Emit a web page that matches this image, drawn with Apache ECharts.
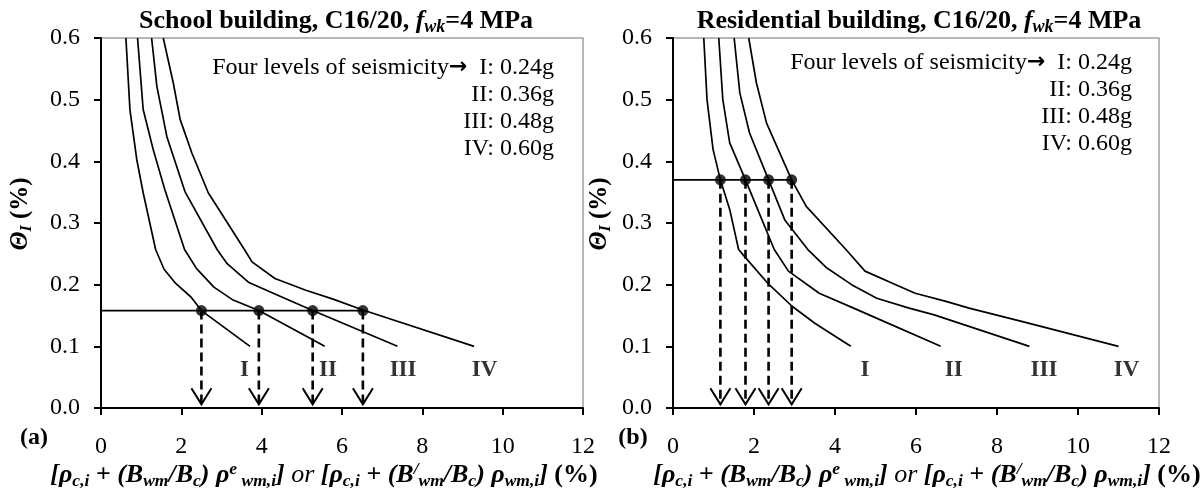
<!DOCTYPE html>
<html>
<head>
<meta charset="utf-8">
<script src="https://cdn.jsdelivr.net/npm/echarts@6/dist/echarts.min.js"></script>
<style>
html, body { margin: 0; padding: 0; background: #fff; }
#chart { width: 1203px; height: 494px; }
</style>
</head>
<body>
<div id="chart"></div>
<script>
// values: [x (%), theta (%)]
var xTicks = [0, 2, 4, 6, 8, 10, 12];
var yTicks = [0, 0.1, 0.2, 0.3, 0.4, 0.5, 0.6];
var levels = ['I', 'II', 'III', 'IV'];
var levelText = ['I: 0.24g', 'II: 0.36g', 'III: 0.48g', 'IV: 0.60g'];

// (a) school building
var schoolI = [[0.62, 0.6], [0.72, 0.484], [0.89, 0.403], [1.05, 0.349], [1.36, 0.257], [1.57, 0.225], [1.86, 0.202], [2.24, 0.18], [2.5, 0.158], [3.71, 0.1]];
var schoolII = [[0.91, 0.6], [1.05, 0.484], [1.3, 0.419], [1.59, 0.354], [2.08, 0.257], [2.38, 0.226], [2.81, 0.196], [3.29, 0.175], [3.93, 0.158], [5.57, 0.1]];
var schoolIII = [[1.26, 0.6], [1.39, 0.522], [1.64, 0.44], [2.09, 0.351], [2.89, 0.257], [3.14, 0.234], [3.67, 0.204], [4.33, 0.185], [5.27, 0.158], [7.38, 0.1]];
var schoolIV = [[1.55, 0.6], [1.8, 0.527], [1.97, 0.468], [2.26, 0.414], [2.67, 0.349], [3.57, 0.257], [3.76, 0.237], [4.33, 0.21], [5.1, 0.191], [5.76, 0.177], [6.52, 0.159], [9.29, 0.1]];
var schoolLevel = 0.158;
var schoolCross = [2.5, 3.93, 5.27, 6.52];
var schoolLabelX = [3.57, 5.65, 7.52, 9.55];

// (b) residential building
var resI = [[0.76, 0.6], [0.84, 0.5], [0.99, 0.419], [1.17, 0.37], [1.4, 0.322], [1.62, 0.257], [1.8, 0.243], [2.33, 0.203], [2.94, 0.165], [3.51, 0.137], [4.39, 0.1]];
var resII = [[1.13, 0.6], [1.23, 0.5], [1.4, 0.43], [1.79, 0.37], [2.06, 0.327], [2.5, 0.257], [2.85, 0.222], [3.61, 0.186], [4.46, 0.162], [4.84, 0.151], [6.61, 0.1]];
var resIII = [[1.51, 0.6], [1.65, 0.511], [1.89, 0.446], [2.36, 0.37], [2.76, 0.305], [3.33, 0.257], [3.8, 0.227], [4.41, 0.2], [5.03, 0.178], [5.83, 0.162], [6.45, 0.151], [8.8, 0.1]];
var resIV = [[1.87, 0.6], [2.06, 0.527], [2.31, 0.462], [2.93, 0.37], [3.29, 0.327], [4.27, 0.257], [4.74, 0.222], [5.5, 0.2], [5.98, 0.186], [6.74, 0.173], [7.31, 0.162], [7.97, 0.151], [8.63, 0.14], [11.0, 0.1]];
var resLevel = 0.37;
var resCross = [1.17, 1.79, 2.36, 2.93];
var resLabelX = [4.74, 6.93, 9.16, 11.2];

var labelY = 0.061;
var arrowTipY = 0.006;

var serif = 'Liberation Serif';

function renderArrow(params, api) {
    var p0 = api.coord([api.value(0), api.value(1)]);
    var p1 = api.coord([api.value(0), api.value(2)]);
    return {
        type: 'group',
        children: [
            {type: 'line', shape: {x1: p0[0], y1: p0[1], x2: p1[0], y2: p1[1]},
                style: {stroke: '#000', lineWidth: 2.6, lineDash: [9, 5]}},
            {type: 'polyline', shape: {points: [[p1[0] - 10, p1[1] - 16], [p1[0], p1[1]], [p1[0] + 10, p1[1] - 16]]},
                style: {stroke: '#000', lineWidth: 2, fill: null}}
        ]
    };
}

function panelSeries(idx, curves, level, cross, labelX) {
    var s = [];
    curves.forEach(function (c, i) {
        s.push({type: 'line', name: levels[i], xAxisIndex: idx, yAxisIndex: idx, data: c,
            symbol: 'none', lineStyle: {color: '#000', width: 1.7}, z: 2});
    });
    // horizontal level line up to the last intersection
    s.push({type: 'line', xAxisIndex: idx, yAxisIndex: idx,
        data: [[0, level], [Math.max.apply(null, cross), level]],
        symbol: 'none', lineStyle: {color: '#000', width: 1.7}, z: 2});
    // dashed arrows down to the x axis
    s.push({type: 'custom', xAxisIndex: idx, yAxisIndex: idx, renderItem: renderArrow,
        data: cross.map(function (x) { return [x, level, arrowTipY]; }),
        encode: {x: 0, y: [1, 2]}, z: 3});
    s.push({type: 'scatter', xAxisIndex: idx, yAxisIndex: idx, symbolSize: 11,
        itemStyle: {color: '#000'}, z: 4,
        data: cross.map(function (x) { return [x, level]; })});
    // curve names
    s.push({type: 'scatter', xAxisIndex: idx, yAxisIndex: idx, symbolSize: 1,
        itemStyle: {color: 'rgba(0,0,0,0)'},
        label: {show: true, position: 'inside', formatter: '{b}', color: '#000',
            fontFamily: serif, fontWeight: 'bold', fontSize: 23},
        data: labelX.map(function (x, i) { return {name: levels[i], value: [x, labelY]}; })});
    return s;
}

var axisFont = {color: '#000', fontFamily: serif, fontSize: 24};

function xAxisFor(idx) {
    return {type: 'value', gridIndex: idx, min: xTicks[0], max: xTicks[xTicks.length - 1],
        interval: xTicks[1] - xTicks[0],
        axisLine: {onZero: false, lineStyle: {color: '#000', width: 2}},
        axisTick: {length: 7, lineStyle: {color: '#000', width: 2}},
        axisLabel: Object.assign({margin: 27}, axisFont),
        splitLine: {show: false}};
}

function yAxisFor(idx) {
    return {type: 'value', gridIndex: idx, min: yTicks[0], max: yTicks[yTicks.length - 1],
        interval: yTicks[1] - yTicks[0],
        axisLine: {onZero: false, lineStyle: {color: '#000', width: 2}},
        axisTick: {length: 7, lineStyle: {color: '#000', width: 2}},
        axisLabel: Object.assign({margin: 21, formatter: function (v) { return v.toFixed(1); }}, axisFont),
        splitLine: {show: false}};
}

var textRich = {
    m: {fontFamily: serif, fontSize: 26, fontWeight: 'bold', fontStyle: 'italic', fill: '#000', lineHeight: 30},
    o: {fontFamily: serif, fontSize: 26, fontStyle: 'italic', fill: '#000', lineHeight: 30},
    u: {fontFamily: serif, fontSize: 26, fontWeight: 'bold', fill: '#000', lineHeight: 30},
    s: {fontFamily: serif, fontSize: 17.5, fontWeight: 'bold', fontStyle: 'italic', fill: '#000', verticalAlign: 'bottom', lineHeight: 17},
    p: {fontFamily: serif, fontSize: 17.5, fontWeight: 'bold', fontStyle: 'italic', fill: '#000', verticalAlign: 'top', lineHeight: 17},
    t: {fontFamily: serif, fontSize: 26, fontWeight: 'bold', fill: '#000', lineHeight: 30},
    f: {fontFamily: serif, fontSize: 26, fontWeight: 'bold', fontStyle: 'italic', fill: '#000', lineHeight: 30},
    fs: {fontFamily: serif, fontSize: 18, fontWeight: 'bold', fontStyle: 'italic', fill: '#000', verticalAlign: 'bottom', lineHeight: 18},
    y: {fontFamily: serif, fontSize: 25, fontWeight: 'bold', fontStyle: 'italic', fill: '#000', lineHeight: 28},
    ys: {fontFamily: serif, fontSize: 16, fontWeight: 'bold', fontStyle: 'italic', fill: '#000', verticalAlign: 'bottom', lineHeight: 16},
    yp: {fontFamily: serif, fontSize: 25, fontWeight: 'bold', fill: '#000', lineHeight: 28},
    l: {fontFamily: serif, fontSize: 24, fontWeight: 'bold', fill: '#000', lineHeight: 28},
    r: {fontFamily: serif, fontSize: 24, fill: '#000', lineHeight: 27},
    a: {fontFamily: 'DejaVu Sans', fontSize: 22, fontWeight: 'bold', fill: '#000', lineHeight: 27}
};

var xName = '{m|[\u03c1}{s|c,i}{m| + (B}{s|wm}{m|/B}{s|c}{m|) \u03c1}{p|e}{s| wm,i}{m|]}{o| or }' +
    '{m|[\u03c1}{s|c,i}{m| + (B}{p|/}{s|wm}{m|/B}{s|c}{m|) \u03c1}{s|wm,i}{m|]}{u| (%)}';
var yName = '{y|\u0398}{ys|I}{yp| (%)}';

function titleText(name) {
    return '{t|' + name + ', C16/20, }{f|f}{fs|wk}{t|=4 MPa}';
}

function textEl(x, y, text, extra) {
    return Object.assign({type: 'text', x: x, y: y, silent: true,
        style: {text: text, rich: textRich, align: 'center', verticalAlign: 'middle'}}, extra || {});
}

function levelBlock(xRight, yTop) {
    var lines = levelText.map(function (t) { return '{r|' + t + '}'; });
    lines[0] = '{r|Four levels of seismicity}{a|\u2192}{r|  ' + levelText[0] + '}';
    return {type: 'text', x: xRight, y: yTop, silent: true,
        style: {text: lines.join('\n'), rich: textRich, align: 'right', verticalAlign: 'top'}};
}

var chart = echarts.init(document.getElementById('chart'));
chart.setOption({
    backgroundColor: '#fff',
    animation: false,
    grid: [
        {left: 101, top: 38, width: 482, height: 370, show: true, borderColor: '#a0a0a0', borderWidth: 1.5},
        {left: 673, top: 38, width: 486, height: 370, show: true, borderColor: '#a0a0a0', borderWidth: 1.5}
    ],
    xAxis: [xAxisFor(0), xAxisFor(1)],
    yAxis: [yAxisFor(0), yAxisFor(1)],
    series: panelSeries(0, [schoolI, schoolII, schoolIII, schoolIV], schoolLevel, schoolCross, schoolLabelX)
        .concat(panelSeries(1, [resI, resII, resIII, resIV], resLevel, resCross, resLabelX)),
    graphic: [
        textEl(336, 21, titleText('School building')),
        textEl(919, 21, titleText('Residential building')),
        levelBlock(554, 54),
        levelBlock(1132, 49),
        textEl(324, 475, xName),
        textEl(927, 475, xName),
        textEl(21, 214, yName, {rotation: Math.PI / 2}),
        textEl(600, 214, yName, {rotation: Math.PI / 2}),
        textEl(34, 438, '{l|(a)}'),
        textEl(633, 438, '{l|(b)}')
    ]
});
</script>
</body>
</html>
